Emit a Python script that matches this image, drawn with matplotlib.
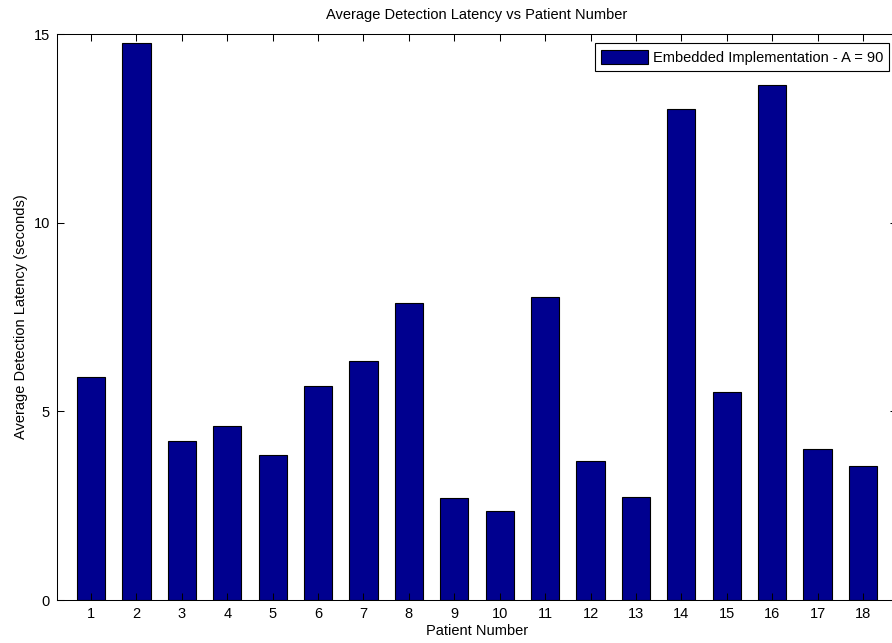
import numpy as np
import matplotlib
matplotlib.use('Agg')
import matplotlib.pyplot as plt

# 各病人的平均检测延迟（秒）
patients = list(range(1, 19))
latency = [5.92, 14.75, 4.22, 4.61, 3.83, 5.67, 6.34, 7.87, 2.71,
           2.36, 8.02, 3.69, 2.73, 13.0, 5.52, 13.66, 4.01, 3.56]
series_label = 'Embedded Implementation - A = 90'

plt.rcParams['font.family'] = ['Liberation Sans', 'DejaVu Sans']
plt.rcParams['font.size'] = 10.5

fig = plt.figure(figsize=(8.92, 6.43), dpi=100)
# 右边框略超出画布
ax = fig.add_axes([57 / 892, 1 - 600 / 643, 840 / 892, 566 / 643])

ax.bar(patients, latency, width=0.62, color='#00008F', edgecolor='black',
       linewidth=0.8, label=series_label)

ax.set_xlim(0.25, 18.75)
ax.set_ylim(0, 15)
ax.set_xticks(patients)
ax.set_yticks([0, 5, 10, 15])
ax.tick_params(direction='in', length=5, width=0.75, top=True, right=True,
               labelsize=10.5, pad=5)
for s in ax.spines.values():
    s.set_linewidth(0.75)

ax.set_title('Average Detection Latency vs Patient Number', fontsize=10.5, pad=11)
ax.set_xlabel('Patient Number', labelpad=2)
ax.set_ylabel('Average Detection Latency (seconds)', labelpad=4)

leg = ax.legend(loc='upper right', bbox_to_anchor=(0.991, 0.984), frameon=True,
                fancybox=False, framealpha=1, edgecolor='black',
                handlelength=3.2, handleheight=1.1, handletextpad=0.3,
                borderpad=0.45, borderaxespad=0, fontsize=10.5)
leg.get_frame().set_linewidth(0.8)

fig.savefig('out.png', dpi=100)
